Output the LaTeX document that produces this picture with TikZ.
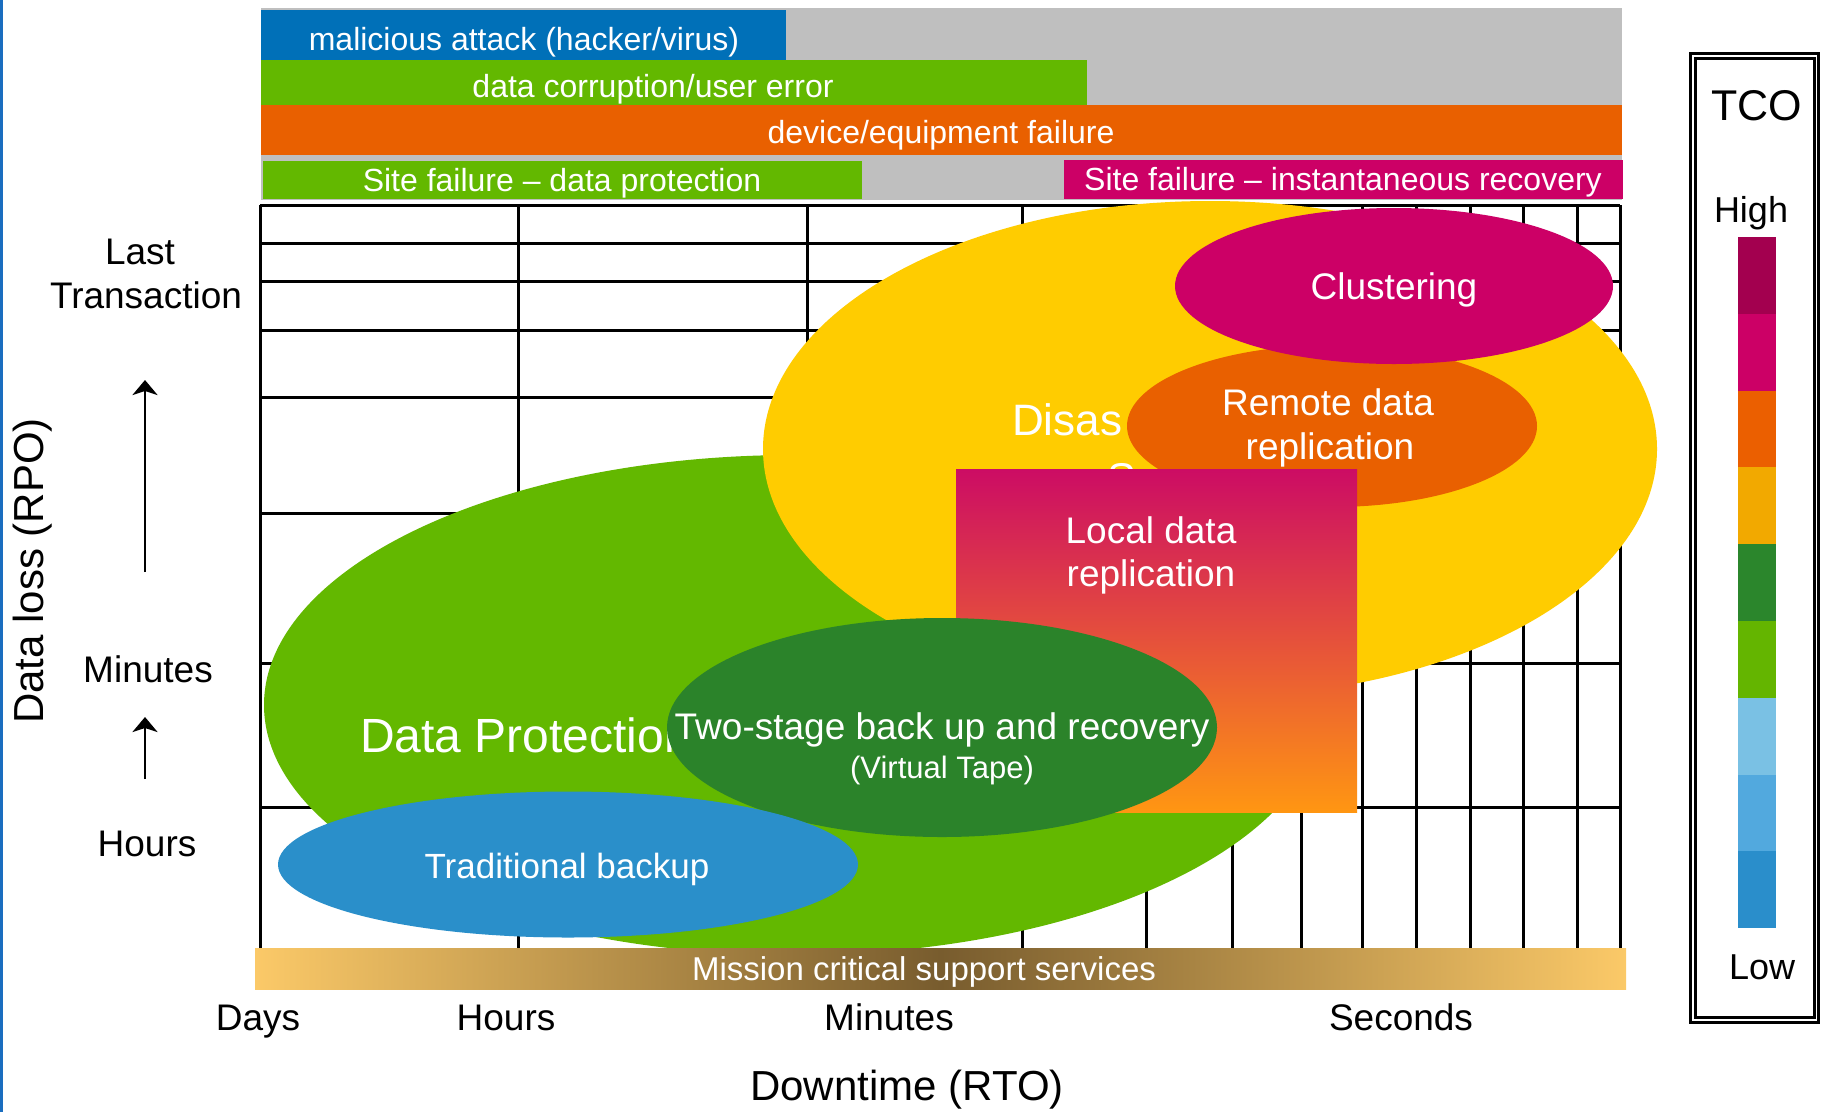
\documentclass[tikz,border=0pt]{standalone}
\usepackage{fontspec}
\setmainfont{Liberation Sans}
\usetikzlibrary{arrows.meta}
\definecolor{cEdge}{HTML}{1A6DBF}
\definecolor{cBlueBar}{HTML}{0070B8}
\definecolor{cGreen}{HTML}{63B800}
\definecolor{cOrange}{HTML}{E96000}
\definecolor{cMag}{HTML}{CC0066}
\definecolor{cGrey}{HTML}{BFBFBF}
\definecolor{cYellow}{HTML}{FFCC00}
\definecolor{cDkGreen}{HTML}{2B832A}
\definecolor{cTrad}{HTML}{2A8FCA}
\definecolor{cLocTop}{HTML}{CC0C64}
\definecolor{cLocBot}{HTML}{FF9612}
\definecolor{cMisLight}{HTML}{FBC968}
\definecolor{cMisDark}{HTML}{785C2E}
\definecolor{cLa}{HTML}{A3004F}
\definecolor{cLb}{HTML}{CC0066}
\definecolor{cLc}{HTML}{EB5F00}
\definecolor{cLd}{HTML}{F2A900}
\definecolor{cLe}{HTML}{2B862C}
\definecolor{cLf}{HTML}{64B500}
\definecolor{cLg}{HTML}{7AC1E4}
\definecolor{cLh}{HTML}{52A9DE}
\definecolor{cLi}{HTML}{2A8ECB}
\newcommand\tsz[1]{\fontsize{#1}{#1}\selectfont}
\tikzset{
  wtxt/.style={inner sep=0pt, anchor=base, text=white},
  btxt/.style={inner sep=0pt, anchor=base, text=black},
  gridln/.style={line width=3pt, black},
  uparrow/.style={line width=2.7pt, black, -{Stealth[length=15pt,width=25pt,inset=4pt]}},
  legframe/.style={line width=2.7pt, black},
}
\begin{document}
\begin{tikzpicture}[x=1pt,y=-1pt]
\useasboundingbox (0,0) rectangle (1830,1112);
\fill[white] (0,0) rectangle (1830,1112);
\fill[cEdge] (0,0) rectangle (2.5,1112);

% ---- top bars
\fill[cGrey] (261,8) rectangle (1622,200);
\fill[cBlueBar] (261,10) rectangle (786,60);
\fill[cGreen] (261,60) rectangle (1087,105);
\fill[cOrange] (261,105) rectangle (1622,155);
\fill[cGreen] (263,161) rectangle (862,199);
\fill[cMag] (1064,160) rectangle (1623,199);
\node[wtxt, font=\tsz{32}] (tb1) at (524,50) {malicious attack (hacker/virus)};
\node[wtxt, font=\tsz{32}] (tb2) at (653,97) {data corruption/user error};
\node[wtxt, font=\tsz{32}] (tb3) at (941,143) {device/equipment failure};
\node[wtxt, font=\tsz{32}] (tb4) at (562,191) {Site failure – data protection};
\node[wtxt, font=\tsz{32}] (tb5) at (1343,190) {Site failure – instantaneous recovery};

% ---- grid
\foreach \yy in {205,243,281,330,397,513,663,807}
  \draw[gridln] (260,\yy) -- (1620,\yy);
\foreach \xx in {260,518,807,1022,1146,1232,1301,1362,1416,1470,1523,1577,1620}
  \draw[gridln] (\xx,205) -- (\xx,948);

% ---- big regions
\fill[cGreen] (794,705) ellipse [x radius=530pt, y radius=250pt];
\fill[cYellow] (1210,449) ellipse [x radius=447pt, y radius=248pt];
\node[wtxt, anchor=base west, font=\tsz{44}] (dr1) at (1012,435) {Disas};
\node[wtxt, anchor=base west, font=\tsz{43}] (dr2) at (1107,493) {S};
\node[wtxt, anchor=base west, font=\tsz{48}] (dp) at (360,752) {Data Protection};

% ---- remote data replication
\fill[cOrange] (1332,426) ellipse [x radius=205pt, y radius=81pt];
\node[wtxt, font=\tsz{37}] (rd1) at (1328,415) {Remote data};
\node[wtxt, font=\tsz{37}] (rd2) at (1330,459) {replication};

% ---- clustering
\fill[cMag] (1394,286) ellipse [x radius=219pt, y radius=78pt];
\node[wtxt, font=\tsz{37}] (cl) at (1394,299) {Clustering};

% ---- local data replication
\shade[top color=cLocTop, bottom color=cLocBot] (956,469) rectangle (1357,812);
\node[wtxt, font=\tsz{37}] (ld1) at (1151,543) {Local data};
\node[wtxt, font=\tsz{37}] (ld2) at (1151,586) {replication};

% ---- two-stage
\fill[cDkGreen] (942,727.5) ellipse [x radius=275pt, y radius=109.5pt];
\node[wtxt, font=\tsz{37}] (ts1) at (942,739) {Two-stage back up and recovery};
\node[wtxt, font=\tsz{31}] (ts2) at (942,778) {(Virtual Tape)};

% ---- traditional backup
\fill[cTrad] (568,864.5) ellipse [x radius=290pt, y radius=73pt];
\node[wtxt, font=\tsz{35}] (tr) at (567,878) {Traditional backup};

% ---- mission critical bar
\shade[left color=cMisLight, right color=cMisLight, middle color=cMisDark] (255,948) rectangle (1626,989);
\node[wtxt, font=\tsz{33}] (mc) at (924,980) {Mission critical support services};

% ---- axes labels
\node[btxt, font=\tsz{37}] (ylast) at (140,264) {Last};
\node[btxt, font=\tsz{37}] (ytrans) at (146,308) {Transaction};
\node[btxt, font=\tsz{37}] (ymin) at (148,682) {Minutes};
\node[btxt, font=\tsz{37}] (yhrs) at (147,856) {Hours};
\node[inner sep=0pt, text=black, font=\tsz{42}, rotate=90] (ylab) at (33,571) {Data loss (RPO)};
\coordinate (a1s) at (145,572);
\coordinate (a1e) at (145,380);
\coordinate (a2s) at (145,779);
\coordinate (a2e) at (145,717);
\draw[uparrow] (a1s) -- (a1e);
\draw[uparrow] (a2s) -- (a2e);

\node[btxt, font=\tsz{37}] (xdays) at (258,1030) {Days};
\node[btxt, font=\tsz{37}] (xhrs) at (506,1030) {Hours};
\node[btxt, font=\tsz{37}] (xmin) at (889,1030) {Minutes};
\node[btxt, font=\tsz{37}] (xsec) at (1401,1030) {Seconds};
\node[btxt, font=\tsz{42}] (xlab) at (907,1100) {Downtime (RTO)};

% ---- TCO legend
\draw[legframe] (1690.7,53.3) rectangle (1818.3,1022.5);
\draw[legframe] (1695.3,58.7) rectangle (1814.5,1017.7);
\node[btxt, font=\tsz{43}] (tco) at (1757,120) {TCO};
\node[btxt, font=\tsz{36}] (thigh) at (1751,222) {High};
\node[btxt, font=\tsz{36}] (tlow) at (1762,979) {Low};
\foreach \c [count=\i from 0] in {cLa,cLb,cLc,cLd,cLe,cLf,cLg,cLh,cLi}
  \fill[\c] (1738,{237+76.8*\i}) rectangle (1776,{237+76.8*(\i+1)});
\end{tikzpicture}
\end{document}
